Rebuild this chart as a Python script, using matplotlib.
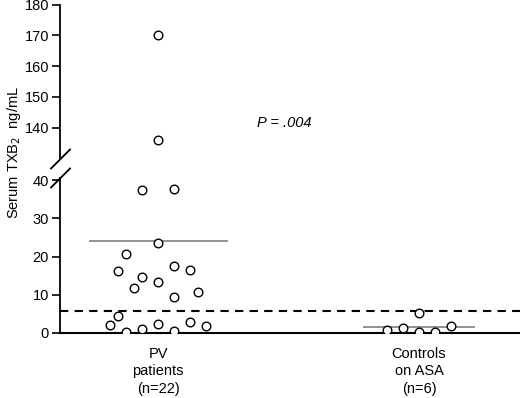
import matplotlib.pyplot as plt

plt.rcParams['font.family'] = ['Liberation Sans', 'DejaVu Sans']

# group labels
groups = ['PV\npatients\n(n=22)', 'Controls\non ASA\n(n=6)']

# PV patients: serum TXB2 (ng/mL) and swarm slot of each point
pv_values = [170.2, 136.0, 37.4, 37.6, 23.5, 20.6, 16.2, 17.5, 16.4, 14.7, 11.7,
             13.4, 9.4, 10.7, 4.5, 2.2, 0.3, 1.0, 2.4, 0.5, 2.8, 1.9]
pv_slots = [0, 0, -1, 1, 0, -2, -2.5, 1, 2, -1, -1.5,
            0, 1, 2.5, -2.5, -3, -2, -1, 0, 1, 2, 3]
pv_mean = 24.2

# controls on aspirin
ctrl_values = [5.2, 0.8, 1.4, 0.3, 0.2, 1.8]
ctrl_slots = [0, -2, -1, 0, 1, 2]
ctrl_mean = 1.5

cutoff = 5.8
p_text = 'P = .004'

slot_w = 0.061  # width of one swarm slot in x units

fig = plt.figure(figsize=(5.2, 3.98), dpi=100)
ax_lo = fig.add_axes([60/520, 65/398, 460/520, 155/398])
ax_hi = fig.add_axes([60/520, 240/398, 460/520, 153.3/398])

xlim = (0.6245, 2.387)
mk = dict(marker='o', ms=6.2, mfc='white', mec='black', mew=1.0, ls='none', zorder=3)

for ax in (ax_lo, ax_hi):
    ax.plot([1 + s * slot_w for s in pv_slots], pv_values, **mk)
    ax.plot([2 + s * slot_w for s in ctrl_slots], ctrl_values, **mk)
    ax.set_xlim(*xlim)
    ax.spines['top'].set_visible(False)
    ax.spines['right'].set_visible(False)
    ax.tick_params(axis='y', direction='out', length=6, width=1.2, labelsize=10.5, pad=2)
    ax.spines['left'].set_linewidth(1.3)

# mean lines and cutoff
ax_lo.plot([1 - 0.26, 1 + 0.265], [pv_mean, pv_mean], color='#888888', lw=1.3, zorder=2)
ax_lo.plot([2 - 0.21, 2 + 0.21], [ctrl_mean, ctrl_mean], color='#888888', lw=1.3, zorder=2)
ax_lo.axhline(cutoff, color='black', lw=1.5, ls=(0, (4, 3)), zorder=1)

ax_lo.set_ylim(0, 40.6)
ax_lo.set_yticks([0, 10, 20, 30, 40])
ax_lo.set_xticks([1, 2])
ax_lo.set_xticklabels(groups, fontsize=10.5, linespacing=1.32)
ax_lo.tick_params(axis='x', length=0, pad=10)
ax_lo.spines['bottom'].set_linewidth(1.5)

ax_hi.set_ylim(130.1, 180)
ax_hi.set_yticks([140, 150, 160, 170, 180])
ax_hi.spines['bottom'].set_visible(False)
ax_hi.set_xticks([])
ax_hi.text(0.487, 0.228, p_text, transform=ax_hi.transAxes,
           fontsize=10.5, style='italic', ha='center', va='center')

# break marks
for yb in (159, 178):
    fig.add_artist(plt.Line2D([51/520, 70/520], [(398 - yb - 9.5)/398, (398 - yb + 9.5)/398],
                              color='black', lw=1.3))

fig.text(14/520, (398 - 152)/398, 'Serum TXB$_2$  ng/mL', rotation=90,
         ha='center', va='center', fontsize=10.5)

fig.savefig('out.png', dpi=100)
